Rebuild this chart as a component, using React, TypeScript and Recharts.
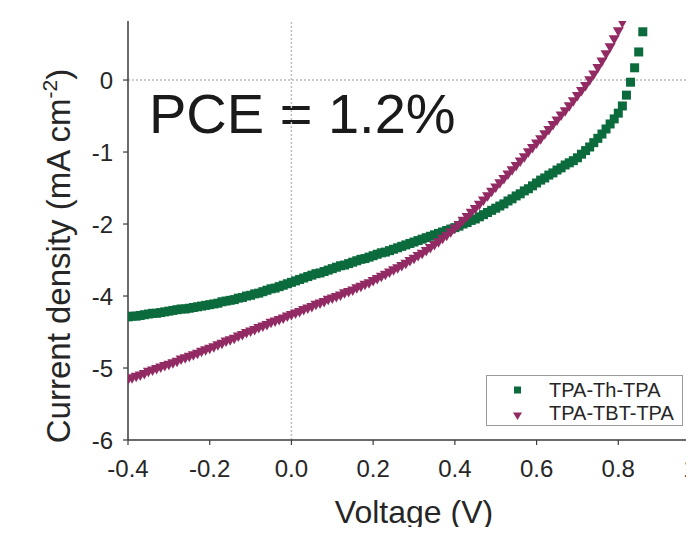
import React from 'react';
import { ScatterChart, Scatter, XAxis, YAxis, ReferenceLine, Legend, Customized } from 'recharts';

// Voltage (V), 0.01 V steps
const VOLTAGE = [
  -0.4, -0.39, -0.38, -0.37, -0.36, -0.35, -0.34, -0.33, -0.32, -0.31,
  -0.3, -0.29, -0.28, -0.27, -0.26, -0.25, -0.24, -0.23, -0.22, -0.21,
  -0.2, -0.19, -0.18, -0.17, -0.16, -0.15, -0.14, -0.13, -0.12, -0.11,
  -0.1, -0.09, -0.08, -0.07, -0.06, -0.05, -0.04, -0.03, -0.02, -0.01,
  0.0, 0.01, 0.02, 0.03, 0.04, 0.05, 0.06, 0.07, 0.08, 0.09,
  0.1, 0.11, 0.12, 0.13, 0.14, 0.15, 0.16, 0.17, 0.18, 0.19,
  0.2, 0.21, 0.22, 0.23, 0.24, 0.25, 0.26, 0.27, 0.28, 0.29,
  0.3, 0.31, 0.32, 0.33, 0.34, 0.35, 0.36, 0.37, 0.38, 0.39,
  0.4, 0.41, 0.42, 0.43, 0.44, 0.45, 0.46, 0.47, 0.48, 0.49,
  0.5, 0.51, 0.52, 0.53, 0.54, 0.55, 0.56, 0.57, 0.58, 0.59,
  0.6, 0.61, 0.62, 0.63, 0.64, 0.65, 0.66, 0.67, 0.68, 0.69,
  0.7, 0.71, 0.72, 0.73, 0.74, 0.75, 0.76, 0.77, 0.78, 0.79,
  0.8, 0.81, 0.82, 0.83, 0.84, 0.85, 0.86,
];

// Current density, in the evenly spaced axis units (tick positions 0..-5)
const TPA_TH_TPA = [
  -3.29, -3.28, -3.28, -3.27, -3.26, -3.25, -3.24, -3.24, -3.23, -3.22,
  -3.21, -3.2, -3.19, -3.18, -3.18, -3.17, -3.16, -3.15, -3.14, -3.13,
  -3.12, -3.11, -3.1, -3.08, -3.07, -3.06, -3.05, -3.03, -3.02, -3.0,
  -2.99, -2.97, -2.96, -2.94, -2.92, -2.9, -2.89, -2.87, -2.85, -2.83,
  -2.81, -2.79, -2.77, -2.75, -2.73, -2.71, -2.69, -2.68, -2.66, -2.64,
  -2.62, -2.6, -2.58, -2.57, -2.55, -2.53, -2.51, -2.49, -2.48, -2.46,
  -2.44, -2.42, -2.4, -2.39, -2.37, -2.35, -2.33, -2.31, -2.29, -2.27,
  -2.25, -2.23, -2.21, -2.19, -2.17, -2.15, -2.13, -2.11, -2.09, -2.07,
  -2.05, -2.03, -2.0, -1.98, -1.95, -1.93, -1.9, -1.87, -1.84, -1.81,
  -1.78, -1.75, -1.72, -1.68, -1.65, -1.61, -1.58, -1.54, -1.51, -1.47,
  -1.43, -1.39, -1.36, -1.32, -1.29, -1.25, -1.22, -1.18, -1.15, -1.12,
  -1.08, -1.03, -0.98, -0.93, -0.87, -0.81, -0.75, -0.68, -0.61, -0.54,
  -0.46, -0.36, -0.21, -0.03, 0.17, 0.39, 0.67,
];

const TPA_TBT_TPA = [
  -4.17, -4.15, -4.13, -4.11, -4.09, -4.06, -4.04, -4.02, -4.0, -3.98,
  -3.96, -3.94, -3.92, -3.89, -3.87, -3.85, -3.83, -3.81, -3.78, -3.76,
  -3.74, -3.72, -3.69, -3.67, -3.64, -3.62, -3.6, -3.57, -3.55, -3.52,
  -3.5, -3.48, -3.45, -3.43, -3.41, -3.38, -3.36, -3.34, -3.32, -3.29,
  -3.27, -3.25, -3.23, -3.2, -3.18, -3.16, -3.13, -3.11, -3.09, -3.06,
  -3.04, -3.02, -3.0, -2.97, -2.95, -2.93, -2.9, -2.88, -2.85, -2.83,
  -2.8, -2.77, -2.74, -2.71, -2.68, -2.65, -2.62, -2.59, -2.56, -2.52,
  -2.49, -2.45, -2.42, -2.38, -2.34, -2.3, -2.26, -2.21, -2.17, -2.12,
  -2.07, -2.02, -1.96, -1.91, -1.85, -1.8, -1.74, -1.68, -1.62, -1.56,
  -1.5, -1.44, -1.38, -1.32, -1.26, -1.2, -1.14, -1.08, -1.01, -0.95,
  -0.89, -0.83, -0.76, -0.7, -0.63, -0.57, -0.5, -0.44, -0.37, -0.3,
  -0.23, -0.16, -0.09, -0.01, 0.07, 0.16, 0.25, 0.35, 0.45, 0.56,
  0.67, 0.79, 0.91,
];

const SERIES_NAMES = ['TPA-Th-TPA', 'TPA-TBT-TPA'];
const X_TICKS = [-0.4, -0.2, 0, 0.2, 0.4, 0.6, 0.8, 1.0];
const X_TICK_LABELS = ['-0.4', '-0.2', '0.0', '0.2', '0.4', '0.6', '0.8', '1.0'];
const Y_TICKS = [0, -1, -2, -3, -4, -5];
const Y_TICK_LABELS = ['0', '-1', '-2', '-4', '-5', '-6'];
const X_LABEL = 'Voltage (V)';
const Y_LABEL = 'Current density (mA cm';
const Y_LABEL_SUP = '-2';
const PCE_TEXT = 'PCE = 1.2%';

const GREEN = '#0b6b3d';
const PURPLE = '#922a63';
const TEXT = '#262626';
const AXIS = '#3a3a3a';
const FONT = '"Liberation Sans", Arial, Helvetica, sans-serif';

const greenData = VOLTAGE.slice(0, TPA_TH_TPA.length).map((v, i) => ({ v, j: TPA_TH_TPA[i] }));
const purpleData = VOLTAGE.slice(0, TPA_TBT_TPA.length).map((v, i) => ({ v, j: TPA_TBT_TPA[i] }));

const labelFor = (ticks: number[], labels: string[]) => (val: number) => {
  const i = ticks.findIndex((t) => Math.abs(t - val) < 1e-9);
  return i >= 0 ? labels[i] : '';
};

const Square = (p: any) => (
  <rect x={p.cx - 4.5} y={p.cy - 4.5} width={9} height={9} fill={GREEN} />
);

const Tri = (p: any) => (
  <polygon
    points={`${p.cx - 5.5},${p.cy - 4.5} ${p.cx + 5.5},${p.cy - 4.5} ${p.cx},${p.cy + 5}`}
    fill={PURPLE}
  />
);

const LegendBox = () => (
  <div
    style={{
      width: 197,
      height: 51,
      border: '1px solid #9a9a9a',
      boxSizing: 'border-box',
      background: '#fff',
    }}
  >
    <svg width={195} height={49} style={{ display: 'block' }}>
      <rect x={27} y={10.5} width={7} height={7} fill={GREEN} />
      <polygon points="26,36.5 35,36.5 30.5,44" fill={PURPLE} />
      <text x={62} y={21} fontSize={20} fill={TEXT} fontFamily={FONT}>
        {SERIES_NAMES[0]}
      </text>
      <text x={62} y={44} fontSize={20} fill={TEXT} fontFamily={FONT}>
        {SERIES_NAMES[1]}
      </text>
    </svg>
  </div>
);

const Texts = () => (
  <g>
    <text x={141} y={125} fontSize={56} fill="#1a1a1a" fontFamily={FONT}>
      {PCE_TEXT}
    </text>
    <text
      x={62}
      y={248}
      transform="rotate(-90 62 248)"
      textAnchor="middle"
      fontSize={33}
      fill={TEXT}
      fontFamily={FONT}
    >
      {Y_LABEL}
      <tspan fontSize={21} dy={-13}>
        {Y_LABEL_SUP}
      </tspan>
      <tspan dy={13}>)</tspan>
    </text>
  </g>
);

export default function App() {
  return (
    <div style={{ width: 686, height: 527, overflow: 'hidden', marginBottom: -8 }}>
      <ScatterChart width={720} height={527} margin={{ top: 13, right: 28, left: 0, bottom: 0 }}>
        <ReferenceLine x={0} stroke="#bdbdbd" strokeDasharray="2 2" strokeWidth={1.5} />
        <ReferenceLine y={0} stroke="#bdbdbd" strokeDasharray="2 2" strokeWidth={1.5} />
        <XAxis
          type="number"
          dataKey="v"
          domain={[-0.4, 1.0]}
          ticks={X_TICKS}
          allowDataOverflow
          height={95}
          tickSize={5}
          tickMargin={15}
          tickFormatter={labelFor(X_TICKS, X_TICK_LABELS)}
          tick={{ fontSize: 24, fill: TEXT, fontFamily: FONT }}
          axisLine={{ stroke: AXIS, strokeWidth: 1.5 }}
          tickLine={{ stroke: AXIS, strokeWidth: 1.2 }}
          label={{
            value: X_LABEL,
            position: 'insideBottom',
            offset: 12,
            fontSize: 32,
            fill: TEXT,
            fontFamily: FONT,
          }}
        />
        <XAxis
          xAxisId="top"
          orientation="top"
          type="number"
          domain={[-0.4, 1.0]}
          ticks={X_TICKS}
          allowDataOverflow
          height={0}
          mirror
          tickSize={4}
          tickFormatter={() => ''}
          axisLine={{ stroke: '#666', strokeWidth: 2 }}
          tickLine={{ stroke: '#666', strokeWidth: 1.2 }}
        />
        <YAxis
          type="number"
          dataKey="j"
          domain={[-5, 0.82]}
          ticks={Y_TICKS}
          allowDataOverflow
          width={120}
          tickSize={5}
          tickMargin={10}
          tickFormatter={labelFor(Y_TICKS, Y_TICK_LABELS)}
          tick={{ fontSize: 24, fill: TEXT, fontFamily: FONT }}
          axisLine={{ stroke: AXIS, strokeWidth: 1.5 }}
          tickLine={{ stroke: AXIS, strokeWidth: 1.2 }}
        />
        <Scatter
          name={SERIES_NAMES[0]}
          data={greenData}
          fill={GREEN}
          shape={Square}
          isAnimationActive={false}
        />
        <Scatter
          name={SERIES_NAMES[1]}
          data={purpleData}
          fill={PURPLE}
          shape={Tri}
          isAnimationActive={false}
        />
        <Legend
          layout="vertical"
          align="center"
          verticalAlign="middle"
          wrapperStyle={{ left: 478, top: 367, width: 197, height: 51 }}
          content={() => <LegendBox />}
        />
        <Customized component={Texts} />
      </ScatterChart>
    </div>
  );
}
